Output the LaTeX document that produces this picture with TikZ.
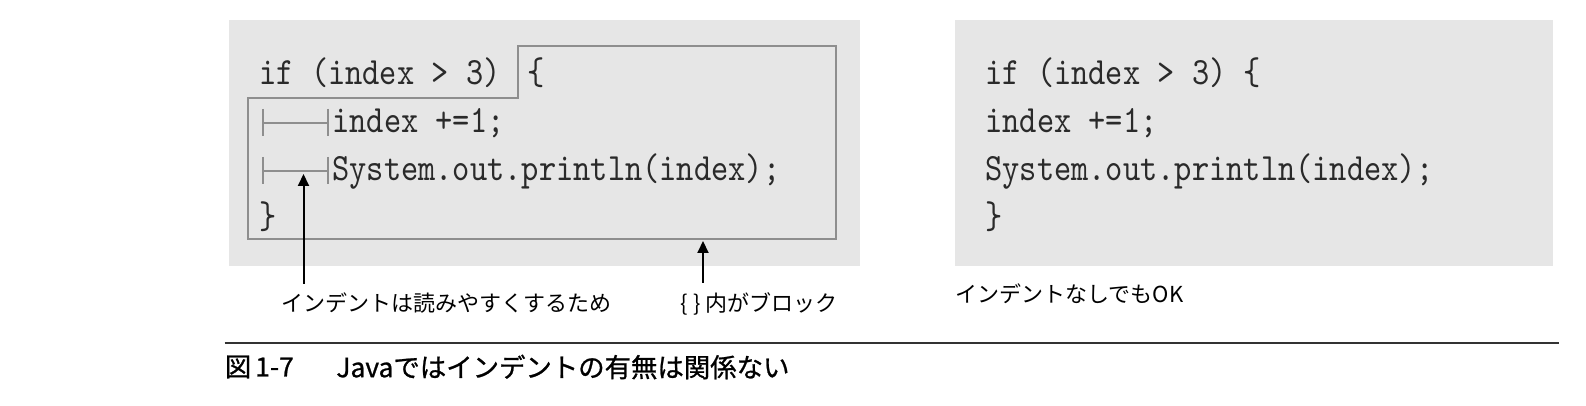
\documentclass[tikz,border=0pt]{standalone}
\usepackage{fontspec}
\newfontfamily\jp{Noto Sans CJK JP}
\newfontfamily\jpcap[FakeBold=0.9]{Noto Sans CJK JP}
\newfontfamily\codefont[FakeStretch=0.85]{lmmono10-regular.otf}
\usetikzlibrary{arrows.meta}
\definecolor{panelgray}{HTML}{E6E6E6}
\definecolor{linegray}{HTML}{8E8E8E}
\definecolor{codeink}{HTML}{2A2A2A}
\tikzset{
  panel/.style={fill=panelgray, draw=none, anchor=north west, inner sep=0pt},
  blockline/.style={draw=linegray, line width=1pt},
  tabline/.style={draw=linegray, line width=0.75pt},
  code/.style={anchor=base west, inner sep=0pt, text=codeink, font=\codefont\fontsize{19.3}{19.3}\selectfont},
  lbl/.style={inner xsep=0pt, inner ysep=4.5pt, text=black, font=\jp\fontsize{11}{11}\selectfont},
  capt/.style={anchor=west, inner sep=0pt, text=black, font=\jpcap\fontsize{13.2}{13.2}\selectfont},
  arr/.style={draw=black, line width=1pt, -{Triangle[length=6pt,width=5.5pt]}},
  rulestyle/.style={draw=black!80, line width=0.7pt}
}
\begin{document}
\begin{tikzpicture}[x=0.5pt,y=-0.5pt]
\useasboundingbox (0,0) rectangle (1586,406);
% panels
\node[panel, minimum width=315.5pt, minimum height=123pt] (lp) at (229,20) {};
\node[panel, minimum width=299pt, minimum height=123pt] (rp) at (955,20) {};
% block outline
\draw[blockline] (248,98) -- (248,239) -- (835.5,239) -- (835.5,46.5) -- (518,46.5) -- (518,98) -- cycle;
% left code
\node[code] (l1) at (259,85) {if (index > 3)};
\node[code] (l1b) at (527,85) {\{};
\node[code] (l2) at (332,133) {index +=1;};
\node[code] (l3) at (332,181) {System.out.println(index);};
\node[code] (l4) at (259,229) {\}};
% tab markers
\draw[tabline] (263,109) -- (263,136) (263,123) -- (328,123) (328,109) -- (328,136);
\draw[tabline] (263,157) -- (263,184) (263,171) -- (328,171) (328,157) -- (328,184);
% right code
\node[code] (r1) at (985,85) {if (index > 3) \{};
\node[code] (r2) at (985,133) {index +=1;};
\node[code] (r3) at (985,181) {System.out.println(index);};
\node[code] (r4) at (985,229) {\}};
% labels and arrows
\node[lbl, anchor=west] (c1) at (281,303.5) {インデントは読みやすくするため};
\node[lbl, anchor=west] (c2) at (680,303.5) {\{\hspace{3pt}\}\hspace{2pt}内がブロック};
\node[lbl, anchor=west] (c3) at (955,294) {インデントなしでもOK};
\coordinate (t1) at (303.5,174);
\coordinate (t2) at (703,241);
\draw[arr] (c1.north -| t1) -- (t1);
\draw[arr] (c2.north -| t2) -- (t2);
% rule and caption
\coordinate (ra) at (224.5,343);
\coordinate (rb) at (1559,343);
\draw[rulestyle] (ra) -- (rb);
\node[capt] (fig) at (224.5,367) {図\hspace{2pt}1-7};
\node[capt] (cap) at (336,367) {Javaではインデントの有無は関係ない};
\end{tikzpicture}
\end{document}
